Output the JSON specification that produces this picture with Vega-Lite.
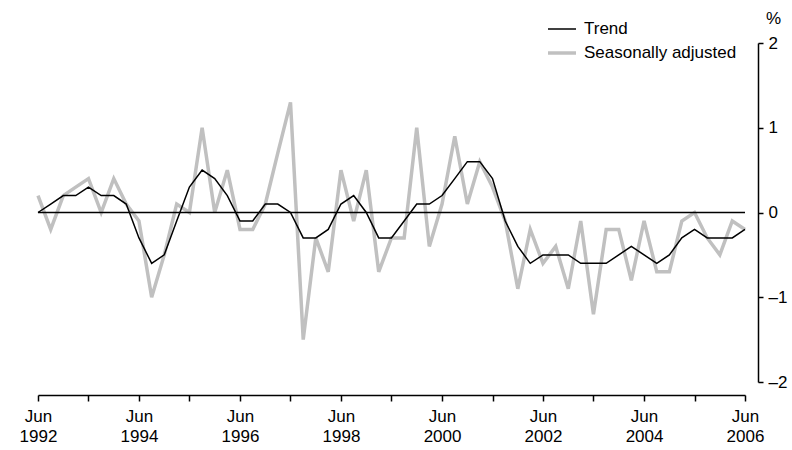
{
  "$schema": "https://vega.github.io/schema/vega-lite/v6.json",
  "width": 720,
  "height": 339,
  "autosize": {"type": "none"},
  "padding": {"left": 38, "top": 43, "right": 34, "bottom": 68},
  "background": "white",
  "config": {
    "view": {"stroke": null},
    "font": "Liberation Sans",
    "axis": {"grid": false, "domainColor": "#000000", "tickColor": "#000000", "domainWidth": 1.5, "tickWidth": 1.5, "labelColor": "#000000", "labelFont": "Liberation Sans", "labelFontSize": 17, "titleFont": "Liberation Sans", "titleFontSize": 17, "titleFontWeight": "normal", "titleColor": "#000000"},
    "legend": {"labelFont": "Liberation Sans", "labelFontSize": 17, "labelColor": "#000000"}
  },
  "data": {"values": [
    {"d": "1992-06-01", "Trend": 0.0, "Seasonally adjusted": 0.2},
    {"d": "1992-09-01", "Trend": 0.1, "Seasonally adjusted": -0.2},
    {"d": "1992-12-01", "Trend": 0.2, "Seasonally adjusted": 0.2},
    {"d": "1993-03-01", "Trend": 0.2, "Seasonally adjusted": 0.3},
    {"d": "1993-06-01", "Trend": 0.3, "Seasonally adjusted": 0.4},
    {"d": "1993-09-01", "Trend": 0.2, "Seasonally adjusted": 0.0},
    {"d": "1993-12-01", "Trend": 0.2, "Seasonally adjusted": 0.4},
    {"d": "1994-03-01", "Trend": 0.1, "Seasonally adjusted": 0.1},
    {"d": "1994-06-01", "Trend": -0.3, "Seasonally adjusted": -0.1},
    {"d": "1994-09-01", "Trend": -0.6, "Seasonally adjusted": -1.0},
    {"d": "1994-12-01", "Trend": -0.5, "Seasonally adjusted": -0.5},
    {"d": "1995-03-01", "Trend": -0.1, "Seasonally adjusted": 0.1},
    {"d": "1995-06-01", "Trend": 0.3, "Seasonally adjusted": 0.0},
    {"d": "1995-09-01", "Trend": 0.5, "Seasonally adjusted": 1.0},
    {"d": "1995-12-01", "Trend": 0.4, "Seasonally adjusted": 0.0},
    {"d": "1996-03-01", "Trend": 0.2, "Seasonally adjusted": 0.5},
    {"d": "1996-06-01", "Trend": -0.1, "Seasonally adjusted": -0.2},
    {"d": "1996-09-01", "Trend": -0.1, "Seasonally adjusted": -0.2},
    {"d": "1996-12-01", "Trend": 0.1, "Seasonally adjusted": 0.1},
    {"d": "1997-03-01", "Trend": 0.1, "Seasonally adjusted": 0.7},
    {"d": "1997-06-01", "Trend": 0.0, "Seasonally adjusted": 1.3},
    {"d": "1997-09-01", "Trend": -0.3, "Seasonally adjusted": -1.5},
    {"d": "1997-12-01", "Trend": -0.3, "Seasonally adjusted": -0.3},
    {"d": "1998-03-01", "Trend": -0.2, "Seasonally adjusted": -0.7},
    {"d": "1998-06-01", "Trend": 0.1, "Seasonally adjusted": 0.5},
    {"d": "1998-09-01", "Trend": 0.2, "Seasonally adjusted": -0.1},
    {"d": "1998-12-01", "Trend": 0.0, "Seasonally adjusted": 0.5},
    {"d": "1999-03-01", "Trend": -0.3, "Seasonally adjusted": -0.7},
    {"d": "1999-06-01", "Trend": -0.3, "Seasonally adjusted": -0.3},
    {"d": "1999-09-01", "Trend": -0.1, "Seasonally adjusted": -0.3},
    {"d": "1999-12-01", "Trend": 0.1, "Seasonally adjusted": 1.0},
    {"d": "2000-03-01", "Trend": 0.1, "Seasonally adjusted": -0.4},
    {"d": "2000-06-01", "Trend": 0.2, "Seasonally adjusted": 0.1},
    {"d": "2000-09-01", "Trend": 0.4, "Seasonally adjusted": 0.9},
    {"d": "2000-12-01", "Trend": 0.6, "Seasonally adjusted": 0.1},
    {"d": "2001-03-01", "Trend": 0.6, "Seasonally adjusted": 0.6},
    {"d": "2001-06-01", "Trend": 0.4, "Seasonally adjusted": 0.3},
    {"d": "2001-09-01", "Trend": -0.1, "Seasonally adjusted": -0.1},
    {"d": "2001-12-01", "Trend": -0.4, "Seasonally adjusted": -0.9},
    {"d": "2002-03-01", "Trend": -0.6, "Seasonally adjusted": -0.2},
    {"d": "2002-06-01", "Trend": -0.5, "Seasonally adjusted": -0.6},
    {"d": "2002-09-01", "Trend": -0.5, "Seasonally adjusted": -0.4},
    {"d": "2002-12-01", "Trend": -0.5, "Seasonally adjusted": -0.9},
    {"d": "2003-03-01", "Trend": -0.6, "Seasonally adjusted": -0.1},
    {"d": "2003-06-01", "Trend": -0.6, "Seasonally adjusted": -1.2},
    {"d": "2003-09-01", "Trend": -0.6, "Seasonally adjusted": -0.2},
    {"d": "2003-12-01", "Trend": -0.5, "Seasonally adjusted": -0.2},
    {"d": "2004-03-01", "Trend": -0.4, "Seasonally adjusted": -0.8},
    {"d": "2004-06-01", "Trend": -0.5, "Seasonally adjusted": -0.1},
    {"d": "2004-09-01", "Trend": -0.6, "Seasonally adjusted": -0.7},
    {"d": "2004-12-01", "Trend": -0.5, "Seasonally adjusted": -0.7},
    {"d": "2005-03-01", "Trend": -0.3, "Seasonally adjusted": -0.1},
    {"d": "2005-06-01", "Trend": -0.2, "Seasonally adjusted": 0.0},
    {"d": "2005-09-01", "Trend": -0.3, "Seasonally adjusted": -0.3},
    {"d": "2005-12-01", "Trend": -0.3, "Seasonally adjusted": -0.5},
    {"d": "2006-03-01", "Trend": -0.3, "Seasonally adjusted": -0.1},
    {"d": "2006-06-01", "Trend": -0.2, "Seasonally adjusted": -0.2}
  ]},
  "transform": [{"fold": ["Trend", "Seasonally adjusted"], "as": ["series", "value"]}],
  "encoding": {
    "x": {
      "field": "d", "type": "temporal",
      "scale": {"type": "utc", "domain": [{"year": 1992, "month": 6, "date": 1, "utc": true}, {"year": 2006, "month": 6, "date": 1, "utc": true}], "range": [0, 707]},
      "axis": {
        "title": null, "offset": 13, "tickSize": 6, "labelPadding": 7, "labelLineHeight": 20,
        "labelOverlap": false, "labelFlush": false, "labelBound": false,
        "values": [
          {"year": 1992, "month": 6, "date": 1, "utc": true}, {"year": 1993, "month": 6, "date": 1, "utc": true},
          {"year": 1994, "month": 6, "date": 1, "utc": true}, {"year": 1995, "month": 6, "date": 1, "utc": true},
          {"year": 1996, "month": 6, "date": 1, "utc": true}, {"year": 1997, "month": 6, "date": 1, "utc": true},
          {"year": 1998, "month": 6, "date": 1, "utc": true}, {"year": 1999, "month": 6, "date": 1, "utc": true},
          {"year": 2000, "month": 6, "date": 1, "utc": true}, {"year": 2001, "month": 6, "date": 1, "utc": true},
          {"year": 2002, "month": 6, "date": 1, "utc": true}, {"year": 2003, "month": 6, "date": 1, "utc": true},
          {"year": 2004, "month": 6, "date": 1, "utc": true}, {"year": 2005, "month": 6, "date": 1, "utc": true},
          {"year": 2006, "month": 6, "date": 1, "utc": true}
        ],
        "labelExpr": "utcyear(datum.value) % 2 == 0 ? ['Jun', '' + utcyear(datum.value)] : ''"
      }
    },
    "y": {
      "field": "value", "type": "quantitative",
      "scale": {"domain": [-2, 2], "nice": false, "zero": false},
      "axis": {
        "orient": "right", "values": [-2, -1, 0, 1, 2], "tickSize": 5, "labelPadding": 5,
        "labelExpr": "datum.value < 0 ? '\u2013' + abs(datum.value) : '' + datum.value",
        "title": "%", "titleAngle": 0, "titleX": 15, "titleY": -25, "titleAlign": "center", "titleBaseline": "middle"
      }
    }
  },
  "layer": [
    {
      "transform": [{"filter": "datum.series == 'Seasonally adjusted'"}],
      "mark": {"type": "line", "strokeJoin": "miter"},
      "encoding": {
        "color": {"field": "series", "type": "nominal", "scale": {"domain": ["Trend", "Seasonally adjusted"], "range": ["#000000", "#c0c0c0"]},
          "legend": {"title": null, "orient": "none", "legendX": 508, "legendY": -29, "symbolType": "stroke", "symbolSize": 784, "rowPadding": -10, "labelOffset": 6}},
        "strokeWidth": {"field": "series", "type": "nominal", "scale": {"domain": ["Trend", "Seasonally adjusted"], "range": [1.5, 3.5]},
          "legend": {"title": null, "orient": "none", "legendX": 508, "legendY": -29, "symbolType": "stroke", "symbolSize": 784, "rowPadding": -10, "labelOffset": 6}}
      }
    },
    {
      "data": {"values": [{"start": "1992-06-01", "end": "2006-06-01", "level": 0}]},
      "transform": [],
      "mark": {"type": "rule", "color": "#000000", "strokeWidth": 1.5},
      "encoding": {
        "x": {"field": "start", "type": "temporal"},
        "x2": {"field": "end"},
        "y": {"field": "level", "type": "quantitative"}
      }
    },
    {
      "transform": [{"filter": "datum.series == 'Trend'"}],
      "mark": {"type": "line", "strokeJoin": "miter"},
      "encoding": {
        "color": {"field": "series", "type": "nominal"},
        "strokeWidth": {"field": "series", "type": "nominal"}
      }
    }
  ]
}
